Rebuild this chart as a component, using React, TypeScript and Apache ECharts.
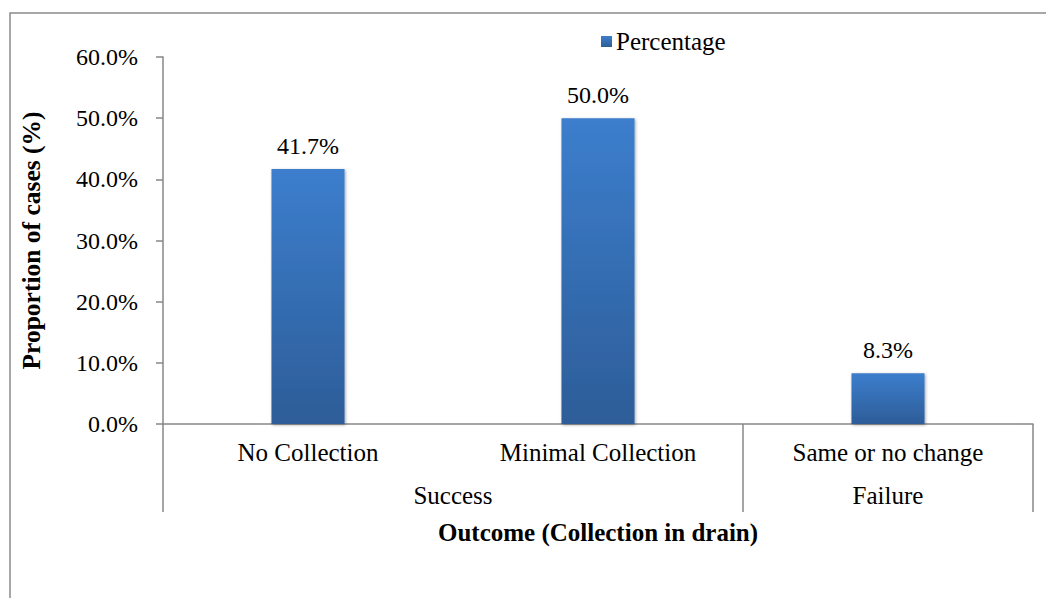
import React, { useEffect, useRef } from "react";
import * as echarts from "echarts";

const categories = ["No Collection", "Minimal Collection", "Same or no change"];
const percentages = [41.7, 50.0, 8.3];
// Second level of the category axis, laid out on half-category steps
const groupSlots = ["", "", "Success", "", "", "Failure", ""];
const groupBoundarySlots = [0, 4, 6];
const yTicks = { min: 0, max: 60, interval: 10 };

const FONT = "Liberation Serif";
const FS = 24;
const FS_L = 25;
const AXIS_GRAY = "#878787";

export default function App() {
  const ref = useRef<HTMLDivElement>(null);

  useEffect(() => {
    if (!ref.current) return;
    const chart = echarts.init(ref.current, null, { renderer: "svg" });
    const barFill = new echarts.graphic.LinearGradient(0, 0, 0, 1, [
      { offset: 0, color: "#3c7ecd" },
      { offset: 1, color: "#2d5d98" },
    ]);
    chart.setOption({
      animation: false,
      backgroundColor: "#ffffff",
      textStyle: { fontFamily: FONT, color: "#000" },
      graphic: [
        {
          type: "rect",
          shape: { x: 10, y: 13, width: 1060, height: 620 },
          style: { fill: "none", stroke: "#8a8a8a", lineWidth: 1.5 },
          silent: true,
          z: -1,
        },
      ],
      legend: {
        top: 24,
        left: 596,
        itemWidth: 11,
        itemHeight: 11,
        itemGap: 4,
        icon: "rect",
        textStyle: { fontFamily: FONT, fontSize: FS_L, color: "#000", padding: [0, 0, 0, -1] },
        data: ["Percentage"],
      },
      grid: { left: 163, right: 13, top: 57, bottom: 174, containLabel: false },
      xAxis: [
        {
          type: "category",
          data: categories,
          position: "bottom",
          axisLine: { lineStyle: { color: AXIS_GRAY, width: 1.5 } },
          axisTick: { show: false },
          axisLabel: { fontFamily: FONT, fontSize: FS_L, color: "#000", margin: 16, interval: 0 },
          name: "Outcome (Collection in drain)",
          nameLocation: "middle",
          nameGap: 96,
          nameTextStyle: { fontFamily: FONT, fontSize: FS_L, fontWeight: "bold", color: "#000" },
        },
        {
          type: "category",
          data: groupSlots,
          position: "bottom",
          boundaryGap: false,
          axisLine: { show: false },
          axisTick: {
            show: true,
            length: 88,
            interval: (index: number) => groupBoundarySlots.includes(index),
            lineStyle: { color: AXIS_GRAY, width: 1.5 },
          },
          axisLabel: { fontFamily: FONT, fontSize: FS_L, color: "#000", margin: 59, interval: 0 },
        },
      ],
      yAxis: {
        type: "value",
        min: yTicks.min,
        max: yTicks.max,
        interval: yTicks.interval,
        axisLine: { show: true, lineStyle: { color: AXIS_GRAY, width: 1.5 } },
        axisTick: { show: true, length: 7, lineStyle: { color: AXIS_GRAY, width: 1.5 } },
        splitLine: { show: false },
        axisLabel: {
          fontFamily: FONT,
          fontSize: FS,
          color: "#000",
          margin: 25,
          formatter: (v: number) => `${v.toFixed(1)}%`,
        },
        name: "Proportion of cases (%)",
        nameLocation: "middle",
        nameGap: 119,
        nameTextStyle: { fontFamily: FONT, fontSize: 25.5, fontWeight: "bold", color: "#000" },
      },
      series: [
        {
          name: "Percentage",
          type: "bar",
          data: percentages,
          barWidth: "25.2%",
          itemStyle: {
            color: barFill,
            shadowBlur: 3,
            shadowColor: "rgba(0,0,0,0.35)",
            shadowOffsetX: 1,
            shadowOffsetY: 1,
          },
          label: {
            show: true,
            position: "top",
            distance: 11,
            fontFamily: FONT,
            fontSize: FS,
            color: "#000",
            formatter: (p: any) => `${Number(p.value).toFixed(1)}%`,
          },
        },
      ],
    });
    return () => chart.dispose();
  }, []);

  return (
    <div
      ref={ref}
      style={{ position: "fixed", left: 0, top: 0, width: 1046, height: 598 }}
    />
  );
}
